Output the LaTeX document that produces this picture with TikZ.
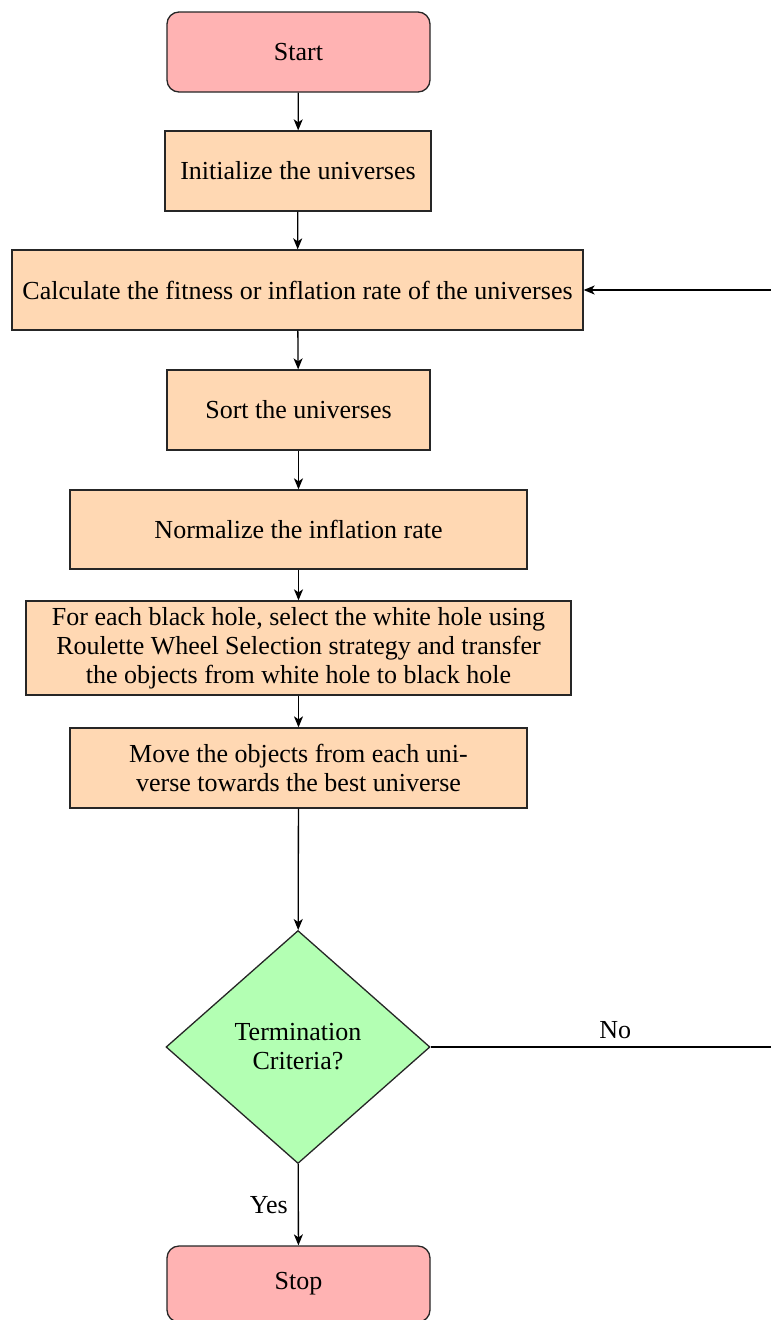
\documentclass[tikz,border=0pt]{standalone}
\usepackage{fontspec}
\setmainfont{Liberation Serif}
\usetikzlibrary{shapes.geometric,arrows.meta}
\definecolor{pinkfill}{RGB}{255,179,179}
\definecolor{peachfill}{RGB}{255,216,179}
\definecolor{greenfill}{RGB}{179,255,179}
\begin{document}
\begin{tikzpicture}[x=1pt,y=-1pt,
  font=\fontsize{26}{29}\selectfont,
  every node/.append style={align=center},
  term/.style={draw=black!85, line width=1.3pt, fill=pinkfill, rounded corners=12pt, minimum width=263pt, minimum height=80pt, inner sep=0pt},
  proc/.style={draw=black!85, line width=1.3pt, fill=peachfill, minimum height=80pt, inner sep=0pt},
  decide/.style={draw=black!85, line width=1.3pt, fill=greenfill, diamond, minimum width=264pt, minimum height=233pt, inner sep=0pt},
  arr/.style={draw=black, line width=1.3pt, -{Stealth[length=11pt,width=9pt,inset=3pt]}},
  lbl/.style={inner sep=0pt}
]
\useasboundingbox (0,0) rectangle (771,1320);
\node[term] (start) at (298.5,52) {Start};
\node[proc, minimum width=266pt] (init) at (298,171) {Initialize the universes};
\node[proc, minimum width=571pt] (calc) at (297.5,290) {Calculate the fitness or inflation rate of the universes};
\node[proc, minimum width=263pt] (sort) at (298.5,410) {Sort the universes};
\node[proc, minimum width=457pt, minimum height=79pt] (norm) at (298.5,529.5) {Normalize the inflation rate};
\node[proc, minimum width=545pt, minimum height=94pt] (each) at (298.5,648) {For each black hole, select the white hole using\\Roulette Wheel Selection strategy and transfer\\the objects from white hole to black hole};
\node[proc, minimum width=457pt] (move) at (298.5,768) {Move the objects from each uni-\\verse towards the best universe};
\node[decide] (dec) at (298,1047) {Termination\\Criteria?};
\node[term, minimum height=76pt] (stop) at (298.5,1284) {Stop};
\coordinate (loopR) at (800,1047);
\coordinate (loopT) at (800,290);

\draw[arr] (start) -- (init);
\draw[arr] (init) -- (calc);
\draw[arr] (calc) -- (sort);
\draw[arr] (sort) -- (norm);
\draw[arr] (norm) -- (each);
\draw[arr] (each) -- (move);
\draw[arr] (move) -- (dec);
\draw[arr] (dec) -- node[lbl, left=10pt] (yes) {Yes} (stop);
\draw[line width=1.3pt] (dec.east) -- node[lbl, above=8pt] (no) {No} (loopR);
\draw[arr] (loopR) -- (loopT) -- (calc.east);
\end{tikzpicture}
\end{document}
